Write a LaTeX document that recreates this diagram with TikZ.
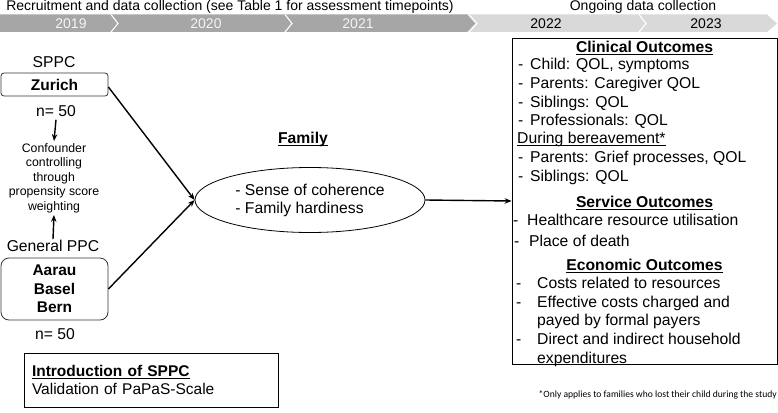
\documentclass[tikz,border=0pt]{standalone}
\usepackage{fontspec}
\setmainfont{Liberation Sans}
\newfontfamily\notefont{Carlito}
\usetikzlibrary{arrows.meta,shapes.geometric}
\definecolor{bardark}{HTML}{A6A6A6}
\definecolor{barlight}{HTML}{D9D9D9}
\definecolor{yeartxt}{HTML}{F4F4F4}
\definecolor{boxline}{HTML}{333333}
\newcommand\myul[1]{\setbox0\hbox{#1}\rlap{\rule[-2.4pt]{\wd0}{1.1pt}}\box0}
\newcommand\dsh[1]{\makebox[#1][l]{-}}
\begin{document}
\begin{tikzpicture}[x=1pt,y=-1pt,
  body/.style={font=\fontsize{15.7}{18}\selectfont, inner sep=0pt},
  top/.style={font=\fontsize{14}{16}\selectfont, inner sep=0pt},
  conftext/.style={font=\fontsize{12.3}{14.5}\selectfont, inner sep=2pt, align=center},
  citybox/.style={draw=boxline, line width=0.8pt, inner sep=0pt, align=center,
    font=\fontsize{15.5}{18.5}\selectfont\bfseries},
  line/.style={body, anchor=base west},
  head/.style={body, anchor=base, font=\fontsize{15.7}{18}\selectfont\bfseries},
  arr/.style={line width=1.4pt, -{Stealth[length=7pt,width=5.5pt]}},
  sep/.style={white, line width=1.1pt}]
\useasboundingbox (0,0) rectangle (778,412);

% timeline
\fill[barlight] (462,14.5) -- (767,14.5) -- (777,23.5) -- (767,32) -- (462,32) -- cycle;
\fill[bardark] (0,14.5) -- (467,14.5) -- (475,23.5) -- (467,32) -- (0,32) -- cycle;
\draw[sep] (469,14.5) -- (477,23.5) -- (469,32);
\draw[sep] (111,14.5) -- (118,23.5) -- (111,32);
\draw[sep] (285,14.5) -- (292,23.5) -- (285,32);
\draw[sep] (639,14.5) -- (646,23.5) -- (639,32);
\node[top, text=yeartxt] (y19) at (71,23.5) {2019};
\node[top, text=yeartxt] (y20) at (206,23.5) {2020};
\node[top, text=yeartxt] (y21) at (358,23.5) {2021};
\node[top] (y22) at (546,23.5) {2022};
\node[top] (y23) at (706,23.5) {2023};
\node[top] (rec) at (230,7) {Recruitment and data collection (see Table 1 for assessment timepoints)};
\node[top] (ong) at (643,7) {Ongoing data collection};

% left column
\node[body] (sppc) at (54,62) {SPPC};
\node[citybox, rounded corners=3pt, minimum width=107pt, minimum height=23pt] (zur) at (54.5,84.5) {Zurich};
\node[body, inner sep=3pt] (n1) at (56,111) {n= 50};
\node[conftext] (conf) at (54,178) {Confounder\\controlling\\through\\propensity score\\weighting};
\node[body, inner sep=1pt] (gen) at (53,246) {General PPC};
\node[citybox, rounded corners=8pt, minimum width=107pt, minimum height=62pt] (gbox) at (54.5,289) {Aarau\\Basel\\Bern};
\node[body] (n2) at (55,334) {n= 50};
\node[draw, line width=0.8pt, minimum width=254pt, minimum height=54pt, text width=238pt,
  inner xsep=8pt, inner ysep=0pt, align=left, font=\fontsize{15.5}{18}\selectfont] (intro) at (151,380)
  {\textbf{\myul{Introduction of SPPC}}\\Validation of PaPaS-Scale};

% family
\node[body, anchor=base] (fam) at (303,143.5) {\textbf{\myul{Family}}};
\node[ellipse, draw, line width=0.8pt, minimum width=230pt, minimum height=65pt, inner sep=0pt,
  align=left, font=\fontsize{15.7}{18}\selectfont] (ell) at (310,200)
  {- Sense of coherence\\- Family hardiness};

% outcomes box
\node[draw, line width=0.8pt, minimum width=265pt, minimum height=326pt, inner sep=0pt] (out) at (644.5,201) {};
\node[head] (ch) at (644.5,52.5) {\myul{Clinical Outcomes}};
\node[line] (c1) at (518,69.5) {\dsh{12pt}Child: QOL, symptoms};
\node[line] (c2) at (518,88.5) {\dsh{12pt}Parents: Caregiver QOL};
\node[line] (c3) at (518,107.5) {\dsh{12pt}Siblings: QOL};
\node[line] (c4) at (518,125.5) {\dsh{12pt}Professionals: QOL};
\node[line] (c5) at (517,143.5) {\myul{During bereavement*}};
\node[line] (c6) at (518,162.5) {\dsh{12pt}Parents: Grief processes, QOL};
\node[line] (c7) at (518,181.5) {\dsh{12pt}Siblings: QOL};
\node[head] (sh) at (644.5,207.5) {\myul{Service Outcomes}};
\node[line] (s1) at (513,225.5) {\dsh{14pt}Healthcare resource utilisation};
\node[line] (s2) at (514,246.5) {\dsh{15pt}Place of death};
\node[head] (eh) at (644.5,270.5) {\myul{Economic Outcomes}};
\node[line] (e1) at (516,288.5) {\dsh{21pt}Costs related to resources};
\node[line] (e2) at (516,307.5) {\dsh{21pt}Effective costs charged and};
\node[line] (e2b) at (537,325.5) {payed by formal payers};
\node[line] (e3) at (516,344.5) {\dsh{21pt}Direct and indirect household};
\node[line] (e3b) at (537,363.5) {expenditures};
\draw[line width=0.8pt] (out.south west) -- (out.south east);

\node[anchor=east, inner sep=0pt, font=\notefont\fontsize{9.6}{11}\selectfont] (note) at (777,395)
  {*Only applies to families who lost their child during the study};

% connectors
\draw[arr] (n1.south) -- (conf.north);
\draw[arr] (gen.north) -- (conf.south);
\draw[arr] ([yshift=-2.5pt]zur.east) -- (ell.west);
\draw[arr] (gbox.east) -- (ell.west);
\draw[arr] (ell.east) -- (out.west);
\end{tikzpicture}
\end{document}
